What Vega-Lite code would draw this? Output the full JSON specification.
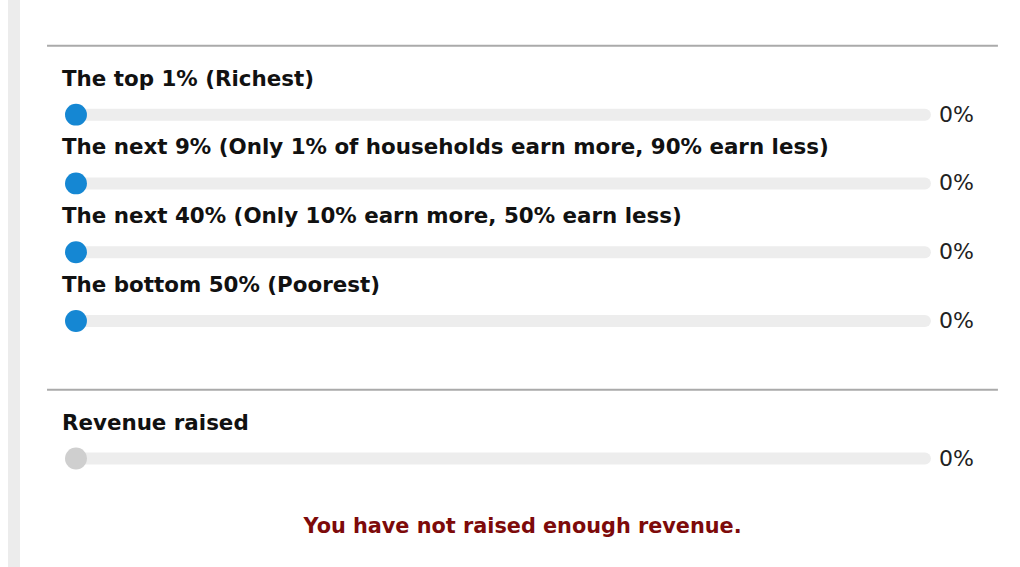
{
  "$schema": "https://vega.github.io/schema/vega-lite/v6.json",
  "width": 1020,
  "height": 567,
  "padding": 0,
  "autosize": {"type": "fit", "contains": "padding"},
  "background": "#ffffff",
  "config": {"view": {"stroke": null}},
  "data": {
    "values": [
      {"row": "sep1", "kind": "separator"},
      {"row": "The top 1% (Richest)", "kind": "slider", "group": "income", "value": 0},
      {"row": "The next 9% (Only 1% of households earn more, 90% earn less)", "kind": "slider", "group": "income", "value": 0},
      {"row": "The next 40% (Only 10% earn more, 50% earn less)", "kind": "slider", "group": "income", "value": 0},
      {"row": "The bottom 50% (Poorest)", "kind": "slider", "group": "income", "value": 0},
      {"row": "sep2", "kind": "separator"},
      {"row": "Revenue raised", "kind": "slider", "group": "revenue", "value": 0},
      {"row": "msg", "kind": "message", "text": "You have not raised enough revenue."}
    ]
  },
  "layer": [
    {
      "transform": [{"filter": "datum.kind === 'message'"}],
      "mark": {"type": "rect", "color": "#ececec"},
      "encoding": {
        "x": {"datum": -0.0801, "type": "quantitative", "scale": {"domain": [-0.0895, 1.112], "nice": false, "zero": false}, "axis": null},
        "x2": {"datum": -0.0659}
      }
    },
    {
      "transform": [{"filter": "datum.kind === 'separator'"}],
      "mark": {"type": "rule", "color": "#aaaaaa", "strokeWidth": 2},
      "encoding": {
        "y": {
          "field": "row",
          "type": "nominal",
          "sort": null,
          "axis": null,
          "scale": {
            "type": "point",
            "domain": [
              "sep1",
              "The top 1% (Richest)",
              "The next 9% (Only 1% of households earn more, 90% earn less)",
              "The next 40% (Only 10% earn more, 50% earn less)",
              "The bottom 50% (Poorest)",
              "sep2",
              "Revenue raised",
              "msg"
            ],
            "padding": 0.622,
            "align": 0.536,
            "round": false
          }
        },
        "x": {"datum": -0.0341, "type": "quantitative"},
        "x2": {"datum": 1.086}
      }
    },
    {
      "transform": [{"filter": "datum.kind === 'slider'"}],
      "mark": {"type": "rule", "color": "#ededed", "strokeWidth": 12, "strokeCap": "round"},
      "encoding": {
        "y": {"field": "row", "type": "nominal", "sort": null},
        "x": {"datum": 0, "type": "quantitative"},
        "x2": {"datum": 1}
      }
    },
    {
      "transform": [{"filter": "datum.kind === 'slider'"}],
      "mark": {"type": "circle", "opacity": 1, "size": 480},
      "encoding": {
        "y": {"field": "row", "type": "nominal", "sort": null},
        "x": {"field": "value", "type": "quantitative"},
        "color": {
          "field": "group",
          "type": "nominal",
          "scale": {"domain": ["income", "revenue"], "range": ["#1587d3", "#cfcfcf"]},
          "legend": null
        }
      }
    },
    {
      "transform": [{"filter": "datum.kind === 'slider'"}],
      "mark": {"type": "text", "align": "left", "baseline": "middle", "dx": -14, "dy": -35, "font": "DejaVu Sans", "fontWeight": "bold", "fontSize": 21.4, "color": "#111111"},
      "encoding": {
        "y": {"field": "row", "type": "nominal", "sort": null},
        "x": {"datum": 0, "type": "quantitative"},
        "text": {"field": "row"}
      }
    },
    {
      "transform": [{"filter": "datum.kind === 'slider'"}],
      "mark": {"type": "text", "align": "left", "baseline": "middle", "dx": 14, "font": "DejaVu Sans", "fontSize": 22, "color": "#222222"},
      "encoding": {
        "y": {"field": "row", "type": "nominal", "sort": null},
        "x": {"datum": 1, "type": "quantitative"},
        "text": {"field": "value", "format": ".0%"}
      }
    },
    {
      "transform": [{"filter": "datum.kind === 'message'"}],
      "mark": {"type": "text", "align": "center", "baseline": "middle", "font": "DejaVu Sans", "fontWeight": "bold", "fontSize": 20.8, "color": "#7d0a0a"},
      "encoding": {
        "y": {"field": "row", "type": "nominal", "sort": null},
        "x": {"datum": 0.526, "type": "quantitative"},
        "text": {"field": "text"}
      }
    }
  ]
}
